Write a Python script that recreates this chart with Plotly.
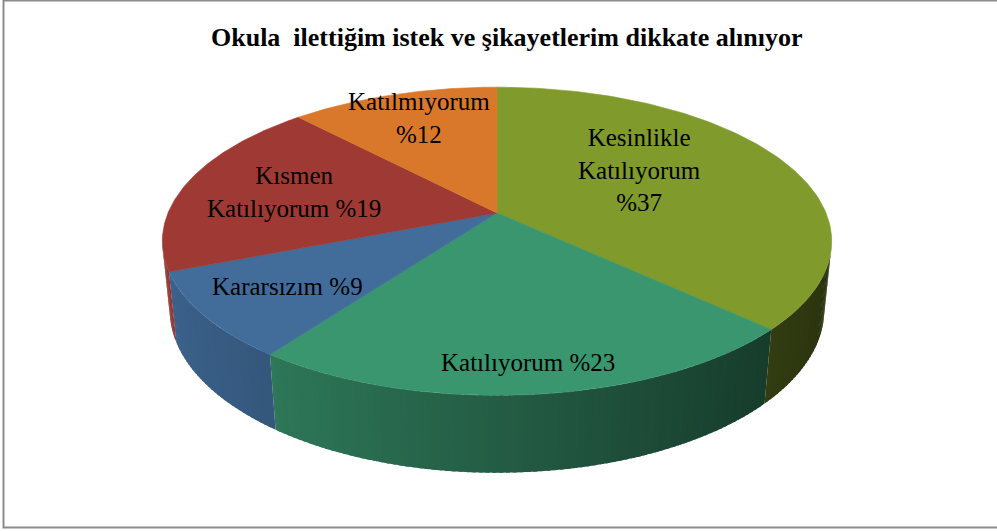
import numpy as np
import plotly.graph_objects as go

# ---- data ----
categories = ["Kesinlikle Katılıyorum", "Katılıyorum", "Kararsızım", "Kısmen Katılıyorum", "Katılmıyorum"]
label_names = ["Kesinlikle<br>Katılıyorum", "Katılıyorum", "Kararsızım", "Kısmen<br>Katılıyorum", "Katılmıyorum"]
label_seps = ["<br>", " ", " ", " ", "<br>"]
values = [37, 23, 9, 19, 12]
title_text = "Okula  ilettiğim istek ve şikayetlerim dikkate alınıyor"

# ---- style ----
colors = ["#809A2C", "#3A966F", "#426D9B", "#9E3934", "#D9782B"]
LABEL_R = [0.49, 0.85, 0.74, 0.65, 0.72]
LABEL_UP = [15, 0, 0, 0, 6]

W, Hpx = 997, 531
CX, CY = 497, 213
FOC = 1600.0
SA = 0.4526
ALPHA = np.arcsin(SA)
DIST = 4.863
DEPTH = 0.2347


def proj(X, Y, Z):
    w = DIST - Y * np.sin(ALPHA) + Z * np.cos(ALPHA)
    u = Y * np.cos(ALPHA) + Z * np.sin(ALPHA)
    return CX + FOC * X / w, CY - FOC * u / w


def hex2rgb(h):
    h = h.lstrip("#")
    return tuple(int(h[i:i + 2], 16) for i in (0, 2, 4))


def shade(h, f):
    r, g, b = hex2rgb(h)
    return "rgb(%d,%d,%d)" % (min(255, r * f), min(255, g * f), min(255, b * f))


fig = go.Figure()

total = float(sum(values))
bounds = np.concatenate([[0.0], np.cumsum(values) / total * 2 * np.pi])

# visible part of the cylinder wall (tangent from camera)
dh = DIST * np.cos(ALPHA)
t_lim = np.arccos(-1.0 / dh)
vis_a, vis_b = t_lim, 2 * np.pi - t_lim

# side walls, drawn as thin overlapping strips for a smooth gradient
for i, col in enumerate(colors):
    a = max(bounds[i], vis_a)
    b = min(bounds[i + 1], vis_b)
    if b <= a:
        continue
    n = max(1, int(np.ceil((b - a) / np.radians(1.0))))
    edges = np.linspace(a, b, n + 1)
    step = edges[1] - edges[0]
    for j in range(n):
        e1 = edges[j + 1] + (0.6 * step if j < n - 1 else 0.0)
        tt = np.linspace(edges[j], e1, 5)
        xt, yt = proj(np.sin(tt), 0 * tt, np.cos(tt))
        xb, yb = proj(np.sin(tt), -DEPTH + 0 * tt, np.cos(tt))
        xs = np.concatenate([xt, xb[::-1], xt[:1]])
        ys = np.concatenate([yt, yb[::-1], yt[:1]])
        tm = 0.5 * (edges[j] + edges[j + 1])
        f = 0.62 - 0.3 * np.sin(tm)
        c = shade(col, f)
        fig.add_trace(go.Scatter(x=xs, y=ys, mode="lines", fill="toself", fillcolor=c,
                                 line=dict(width=0), hoverinfo="skip", showlegend=False))

# top faces
for i, col in enumerate(colors):
    tt = np.linspace(bounds[i], bounds[i + 1], 120)
    xa, ya = proj(np.sin(tt), 0 * tt, np.cos(tt))
    cx0, cy0 = proj(0.0, 0.0, 0.0)
    xs = np.concatenate([[cx0], xa, [cx0]])
    ys = np.concatenate([[cy0], ya, [cy0]])
    fig.add_trace(go.Scatter(x=xs, y=ys, mode="lines", fill="toself", fillcolor=col,
                             line=dict(color=col, width=0.6), hoverinfo="skip",
                             name=categories[i], showlegend=False))

# labels
for i in range(len(values)):
    tm = 0.5 * (bounds[i] + bounds[i + 1])
    r = LABEL_R[i]
    lx, ly = proj(r * np.sin(tm), 0.0, r * np.cos(tm))
    fig.add_annotation(x=lx, y=ly, xref="x", yref="y", showarrow=False,
                       xanchor="center", yanchor="middle",
                       text=f"{label_names[i]}{label_seps[i]}%{values[i]}",
                       yshift=LABEL_UP[i],
                       font=dict(family="Liberation Serif", size=25, color="#000000"))

fig.add_annotation(x=506 / W, y=1 - 37 / Hpx, xref="paper", yref="paper", showarrow=False,
                   xanchor="center", yanchor="middle",
                   text="<b>" + title_text + "</b>",
                   font=dict(family="Liberation Serif", size=26, color="#000000"))

fig.add_shape(type="rect", xref="paper", yref="paper",
              x0=3.5 / W, x1=1.02, y0=1 - 527.5 / Hpx, y1=1 - 0.5 / Hpx,
              line=dict(color="#8C8C8C", width=2), fillcolor="rgba(0,0,0,0)")

fig.update_layout(width=W, height=Hpx, margin=dict(l=0, r=0, t=0, b=0),
                  paper_bgcolor="white", plot_bgcolor="white",
                  xaxis=dict(range=[0, W], visible=False, fixedrange=True),
                  yaxis=dict(range=[Hpx, 0], visible=False, fixedrange=True),
                  showlegend=False)

fig.write_html("out.html", config={"displayModeBar": False},
               post_script="document.body.style.margin='0';document.body.style.overflow='hidden';")
